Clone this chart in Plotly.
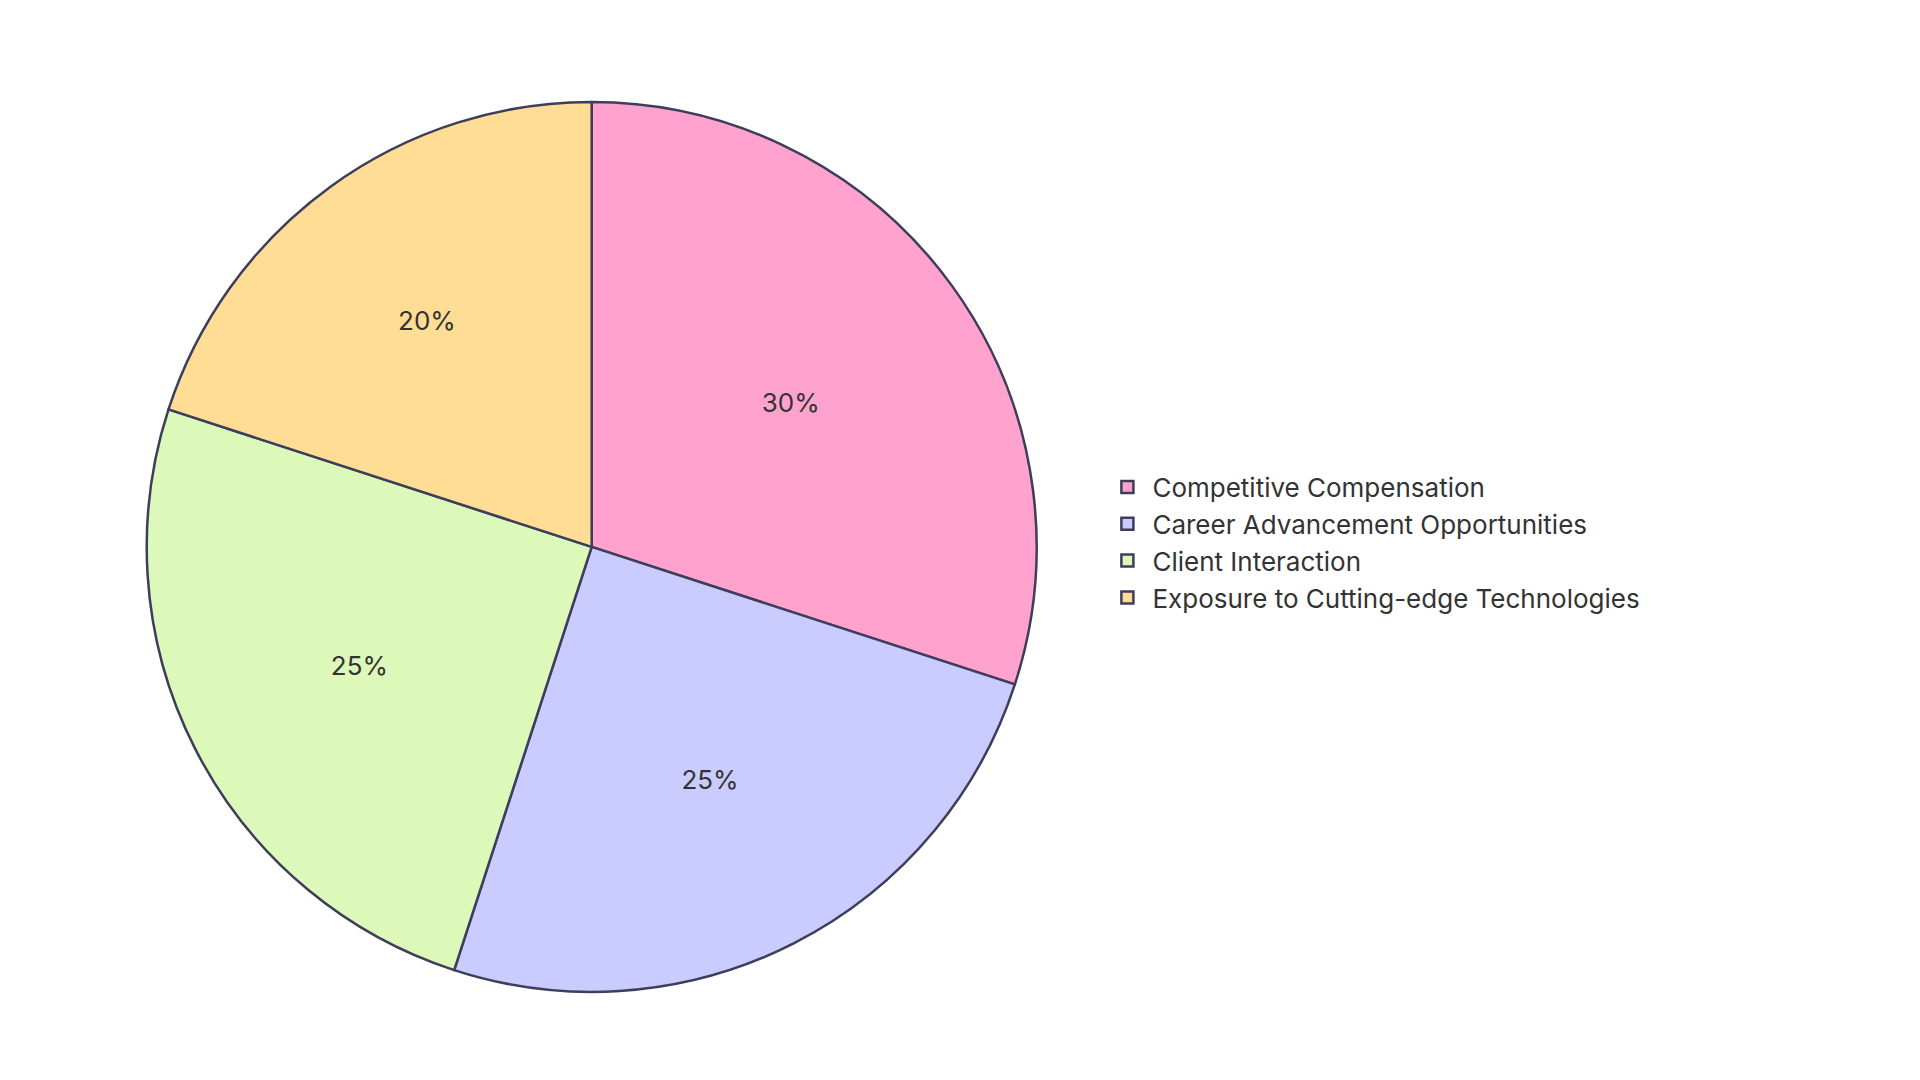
import plotly.graph_objects as go

labels = ["Competitive Compensation", "Career Advancement Opportunities", "Client Interaction", "Exposure to Cutting-edge Technologies"]
values = [30, 25, 25, 20]
colors = ["#FFA3CE", "#CACBFE", "#DCF9BA", "#FFDD95"]

fig = go.Figure(go.Pie(
    labels=labels, values=values, sort=False, direction="clockwise", rotation=0,
    marker=dict(colors=colors, line=dict(color="#3d3d5c", width=2.5)),
    texttemplate="%{percent:.0%}", textposition="inside", insidetextorientation="horizontal",
    textfont=dict(size=26, color="#333333", family="Inter"),
    domain=dict(x=[0.072, 0.536], y=[0.089, 0.913]),
))
fig.update_layout(
    width=1920, height=1080, margin=dict(l=0, r=0, t=0, b=0),
    paper_bgcolor="white", font=dict(family="Inter", color="#333333"),
    legend=dict(x=0.57, y=0.505, yanchor="middle", xanchor="left",
                font=dict(size=26, color="#333333"), itemwidth=40, tracegroupgap=4),
)
fig.write_html("out.html")
